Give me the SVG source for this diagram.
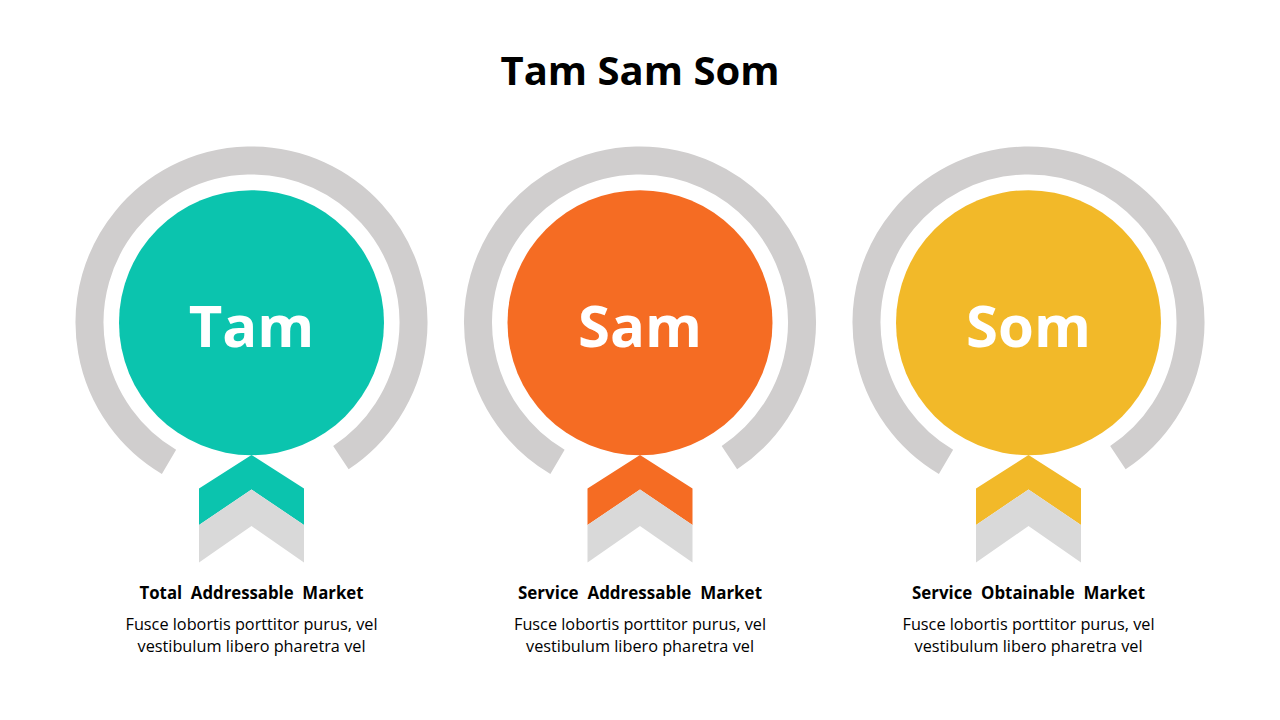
<svg xmlns="http://www.w3.org/2000/svg" width="1280" height="720" viewBox="0 0 1280 720">
<style>
.ring{fill:none;stroke:#D0CECE;stroke-width:28;stroke-linecap:butt}
.chev2{fill:#D9D9D9}
.title{font-family:"Open Sans","Noto Sans",sans-serif;font-weight:bold;font-size:40px;fill:#000;text-anchor:middle}
.big{font-family:"Open Sans","Noto Sans",sans-serif;font-weight:bold;font-size:58px;fill:#fff;text-anchor:middle}
.lbl{font-family:"Open Sans","Noto Sans",sans-serif;font-weight:bold;font-size:17px;fill:#000;text-anchor:middle}
.body{font-family:"Open Sans","Noto Sans",sans-serif;font-size:16px;fill:#000;text-anchor:middle}
</style>
<defs>
<path id="ringPath" class="ring" d="M -82.5 461.9 A 162 162 0 1 1 89.4 457.6"/>
<polygon id="chevBottom" class="chev2" points="0,489.5 52.5,525 52.5,562.5 0,526 -52.5,562.5 -52.5,525"/>
</defs>
<rect width="1280" height="720" fill="#fff"/>
<text class="title" x="640" y="85">Tam Sam Som</text>

<g id="connectors"></g>

<g id="node-tam" transform="translate(251.5,0)">
<use href="#ringPath"/>
<circle cx="0" cy="322.7" r="132.5" fill="#0BC4AE"/>
<polygon fill="#0BC4AE" points="0,455 52.5,488.5 52.5,525 0,489.5 -52.5,525 -52.5,488.5"/>
<use href="#chevBottom"/>
<text class="big" x="0" y="347">Tam</text>
<text class="lbl" x="0" y="599" textLength="224" lengthAdjust="spacingAndGlyphs" xml:space="preserve">Total  Addressable  Market</text>
<text class="body" x="0" y="630" textLength="252" lengthAdjust="spacingAndGlyphs">Fusce lobortis porttitor purus, vel</text>
<text class="body" x="0" y="652" textLength="228" lengthAdjust="spacingAndGlyphs">vestibulum libero pharetra vel</text>
</g>

<g id="node-sam" transform="translate(640,0)">
<use href="#ringPath"/>
<circle cx="0" cy="322.7" r="132.5" fill="#F56C23"/>
<polygon fill="#F56C23" points="0,455 52.5,488.5 52.5,525 0,489.5 -52.5,525 -52.5,488.5"/>
<use href="#chevBottom"/>
<text class="big" x="0" y="347">Sam</text>
<text class="lbl" x="0" y="599" textLength="244" lengthAdjust="spacingAndGlyphs" xml:space="preserve">Service  Addressable  Market</text>
<text class="body" x="0" y="630" textLength="252" lengthAdjust="spacingAndGlyphs">Fusce lobortis porttitor purus, vel</text>
<text class="body" x="0" y="652" textLength="228" lengthAdjust="spacingAndGlyphs">vestibulum libero pharetra vel</text>
</g>

<g id="node-som" transform="translate(1028.5,0)">
<use href="#ringPath"/>
<circle cx="0" cy="322.7" r="132.5" fill="#F2B929"/>
<polygon fill="#F2B929" points="0,455 52.5,488.5 52.5,525 0,489.5 -52.5,525 -52.5,488.5"/>
<use href="#chevBottom"/>
<text class="big" x="0" y="347">Som</text>
<text class="lbl" x="0" y="599" textLength="233" lengthAdjust="spacingAndGlyphs" xml:space="preserve">Service  Obtainable  Market</text>
<text class="body" x="0" y="630" textLength="252" lengthAdjust="spacingAndGlyphs">Fusce lobortis porttitor purus, vel</text>
<text class="body" x="0" y="652" textLength="228" lengthAdjust="spacingAndGlyphs">vestibulum libero pharetra vel</text>
</g>
</svg>
